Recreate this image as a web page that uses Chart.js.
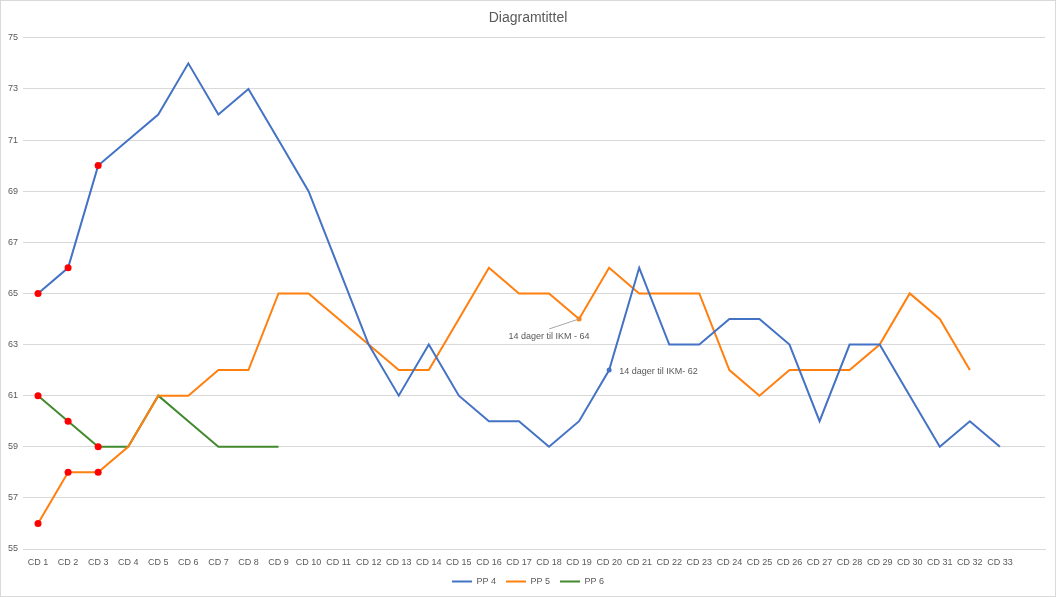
<!DOCTYPE html>
<html>
<head>
<meta charset="utf-8">
<script src="https://cdn.jsdelivr.net/npm/chart.js@4/dist/chart.umd.min.js"></script>
<style>
  html, body { margin: 0; padding: 0; background: #fff; }
  #wrap { width: 1056px; height: 597px; box-sizing: border-box; border: 1px solid #d9d9d9; }
</style>
</head>
<body>
<div id="wrap"><canvas id="chart" width="1054" height="595"></canvas></div>
<script>
// kategorier (siste er tom, Excel-plotområdet har en ekstra plass)
const labels = ['CD 1','CD 2','CD 3','CD 4','CD 5','CD 6','CD 7','CD 8','CD 9','CD 10',
  'CD 11','CD 12','CD 13','CD 14','CD 15','CD 16','CD 17','CD 18','CD 19','CD 20',
  'CD 21','CD 22','CD 23','CD 24','CD 25','CD 26','CD 27','CD 28','CD 29','CD 30',
  'CD 31','CD 32','CD 33',''];

const pp4 = [65,66,70,71,72,74,72,73,71,69,66,63,61,63,61,60,60,59,60,62,66,63,63,64,64,63,60,63,63,61,59,60,59];
const pp5 = [56,58,58,59,61,61,62,62,65,65,64,63,62,62,64,66,65,65,64,66,65,65,65,62,61,62,62,62,63,65,64,62];
const pp6 = [61,60,59,59,61,60,59,59,59];

// markerte punkter
const redIdx = [0,1,2];
const notes = [
  { series: 1, index: 18, text: '14 dager til IKM - 64' },
  { series: 0, index: 19, text: '14 dager til IKM- 62' }
];

const colors = {
  pp4: '#4472C4',
  pp5: '#FF7F0F',
  pp6: '#43892E',
  red: '#FF0000',
  grid: '#D9D9D9',
  text: '#595959'
};

const FONT = '"Liberation Sans", Arial, sans-serif';

function pointRadii(n, extra) {
  return Array.from({ length: n }, (_, i) => redIdx.includes(i) ? 3.5 : (i === extra ? 2.5 : 0));
}
function pointColors(n, base) {
  return Array.from({ length: n }, (_, i) => redIdx.includes(i) ? colors.red : base);
}

const notePlugin = {
  id: 'notes',
  afterDatasetsDraw(chart) {
    const ctx = chart.ctx;
    ctx.save();
    ctx.font = '9px ' + FONT;
    ctx.fillStyle = colors.text;
    ctx.textBaseline = 'middle';
    notes.forEach(n => {
      const pt = chart.getDatasetMeta(n.series).data[n.index];
      if (n.series === 1) {
        ctx.strokeStyle = '#A6A6A6';
        ctx.lineWidth = 1;
        ctx.beginPath();
        ctx.moveTo(pt.x, pt.y);
        ctx.lineTo(pt.x - 30, pt.y + 10);
        ctx.stroke();
        ctx.textAlign = 'center';
        ctx.fillText(n.text, pt.x - 30, pt.y + 18);
      } else {
        ctx.textAlign = 'left';
        ctx.fillText(n.text, pt.x + 10, pt.y + 1);
      }
    });
    ctx.restore();
  }
};

new Chart(document.getElementById('chart'), {
  type: 'line',
  data: {
    labels: labels,
    datasets: [
      {
        label: 'PP 4', data: pp4, borderColor: colors.pp4, backgroundColor: colors.pp4,
        borderWidth: 2, tension: 0,
        pointRadius: pointRadii(pp4.length, 19),
        pointBackgroundColor: pointColors(pp4.length, colors.pp4),
        pointBorderWidth: 0
      },
      {
        label: 'PP 5', data: pp5, borderColor: colors.pp5, backgroundColor: colors.pp5,
        borderWidth: 2, tension: 0,
        pointRadius: pointRadii(pp5.length, 18),
        pointBackgroundColor: pointColors(pp5.length, colors.pp5),
        pointBorderWidth: 0
      },
      {
        label: 'PP 6', data: pp6, borderColor: colors.pp6, backgroundColor: colors.pp6,
        borderWidth: 2, tension: 0,
        pointRadius: pointRadii(pp6.length, -1),
        pointBackgroundColor: pointColors(pp6.length, colors.pp6),
        pointBorderWidth: 0
      }
    ]
  },
  options: {
    responsive: false,
    animation: false,
    layout: { padding: { left: 0, right: 0, top: 0, bottom: 0 } },
    plugins: {
      title: {
        display: true,
        text: 'Diagramtittel',
        color: colors.text,
        font: { size: 14, family: FONT, weight: 'normal' },
        padding: { top: 9, bottom: 11 }
      },
      legend: {
        position: 'bottom',
        labels: {
          color: colors.text,
          font: { size: 9, family: FONT },
          boxWidth: 20,
          boxHeight: 2,
          padding: 10,
          generateLabels(chart) {
            return Chart.defaults.plugins.legend.labels.generateLabels(chart)
              .map(l => Object.assign(l, { lineWidth: 0 }));
          }
        }
      },
      tooltip: { enabled: false }
    },
    scales: {
      x: {
        offset: true,
        grid: { display: false, drawTicks: false },
        border: { color: colors.grid },
        ticks: {
          color: colors.text,
          font: { size: 9, family: FONT },
          padding: 8,
          maxRotation: 0,
          autoSkip: false
        },
        afterFit(scale) { scale.height = 18; }
      },
      y: {
        min: 55,
        max: 75,
        ticks: {
          stepSize: 2,
          color: colors.text,
          font: { size: 9, family: FONT },
          padding: 5
        },
        grid: { color: colors.grid, drawTicks: false },
        border: { display: false },
        afterFit(scale) { scale.width = 22; }
      },
      // tom akse til høyre, gir samme luft som i Excel
      yRight: {
        position: 'right',
        min: 55,
        max: 75,
        ticks: { display: false },
        grid: { display: false, drawTicks: false },
        border: { display: false },
        afterFit(scale) { scale.width = 10; }
      }
    }
  },
  plugins: [notePlugin]
});
</script>
</body>
</html>
